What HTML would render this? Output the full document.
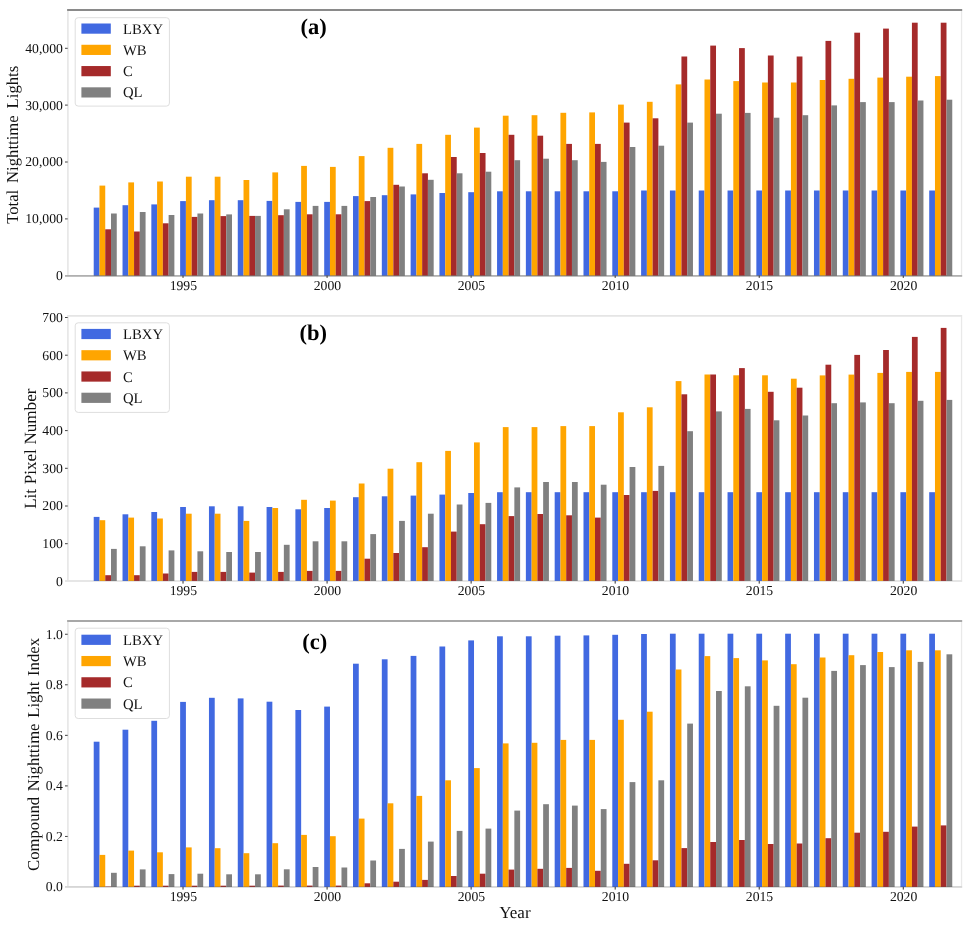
<!DOCTYPE html>
<html lang="en"><head><meta charset="utf-8"><title>Nighttime light indices 1992-2021</title>
<style>
html,body{margin:0;padding:0;background:#fff;}
body{width:972px;height:928px;overflow:hidden;}
svg{display:block;}
text{font-family:"Liberation Serif", "DejaVu Serif", serif;fill:#111;text-rendering:geometricPrecision;}
.tk{font-size:13.7px;}
.lg{font-size:14.7px;}
.lb{font-size:16.7px;}
.tt{font-size:22.5px;font-weight:bold;fill:#000;}
</style></head><body>
<svg width="972" height="928" viewBox="0 0 972 928">
<rect x="0" y="0" width="972" height="928" fill="#ffffff"/>
<g id="panel-a">
<g fill="#4169e1" shape-rendering="auto">
<rect x="93.72" y="207.60" width="5.76" height="68.00"/>
<rect x="122.53" y="205.20" width="5.76" height="70.40"/>
<rect x="151.34" y="204.40" width="5.76" height="71.20"/>
<rect x="180.15" y="201.10" width="5.76" height="74.50"/>
<rect x="208.96" y="200.20" width="5.76" height="75.40"/>
<rect x="237.77" y="200.20" width="5.76" height="75.40"/>
<rect x="266.58" y="200.90" width="5.76" height="74.70"/>
<rect x="295.39" y="201.90" width="5.76" height="73.70"/>
<rect x="324.20" y="201.90" width="5.76" height="73.70"/>
<rect x="353.01" y="196.10" width="5.76" height="79.50"/>
<rect x="381.82" y="195.20" width="5.76" height="80.40"/>
<rect x="410.63" y="194.40" width="5.76" height="81.20"/>
<rect x="439.44" y="193.00" width="5.76" height="82.60"/>
<rect x="468.25" y="192.20" width="5.76" height="83.40"/>
<rect x="497.06" y="191.30" width="5.76" height="84.30"/>
<rect x="525.87" y="191.30" width="5.76" height="84.30"/>
<rect x="554.68" y="191.30" width="5.76" height="84.30"/>
<rect x="583.49" y="191.30" width="5.76" height="84.30"/>
<rect x="612.30" y="191.30" width="5.76" height="84.30"/>
<rect x="641.11" y="190.50" width="5.76" height="85.10"/>
<rect x="669.92" y="190.50" width="5.76" height="85.10"/>
<rect x="698.73" y="190.50" width="5.76" height="85.10"/>
<rect x="727.54" y="190.50" width="5.76" height="85.10"/>
<rect x="756.35" y="190.50" width="5.76" height="85.10"/>
<rect x="785.16" y="190.50" width="5.76" height="85.10"/>
<rect x="813.97" y="190.50" width="5.76" height="85.10"/>
<rect x="842.78" y="190.50" width="5.76" height="85.10"/>
<rect x="871.59" y="190.50" width="5.76" height="85.10"/>
<rect x="900.40" y="190.50" width="5.76" height="85.10"/>
<rect x="929.21" y="190.50" width="5.76" height="85.10"/>
</g>
<g fill="#ffa500" shape-rendering="auto">
<rect x="99.48" y="185.60" width="5.76" height="90.00"/>
<rect x="128.29" y="182.40" width="5.76" height="93.20"/>
<rect x="157.10" y="181.50" width="5.76" height="94.10"/>
<rect x="185.91" y="176.70" width="5.76" height="98.90"/>
<rect x="214.72" y="176.70" width="5.76" height="98.90"/>
<rect x="243.53" y="180.00" width="5.76" height="95.60"/>
<rect x="272.34" y="172.40" width="5.76" height="103.20"/>
<rect x="301.15" y="165.90" width="5.76" height="109.70"/>
<rect x="329.96" y="166.90" width="5.76" height="108.70"/>
<rect x="358.77" y="156.10" width="5.76" height="119.50"/>
<rect x="387.58" y="147.80" width="5.76" height="127.80"/>
<rect x="416.39" y="143.90" width="5.76" height="131.70"/>
<rect x="445.20" y="134.80" width="5.76" height="140.80"/>
<rect x="474.01" y="127.60" width="5.76" height="148.00"/>
<rect x="502.82" y="115.70" width="5.76" height="159.90"/>
<rect x="531.63" y="115.20" width="5.76" height="160.40"/>
<rect x="560.44" y="112.80" width="5.76" height="162.80"/>
<rect x="589.25" y="112.40" width="5.76" height="163.20"/>
<rect x="618.06" y="104.60" width="5.76" height="171.00"/>
<rect x="646.87" y="101.80" width="5.76" height="173.80"/>
<rect x="675.68" y="84.40" width="5.76" height="191.20"/>
<rect x="704.49" y="79.50" width="5.76" height="196.10"/>
<rect x="733.30" y="81.10" width="5.76" height="194.50"/>
<rect x="762.11" y="82.50" width="5.76" height="193.10"/>
<rect x="790.92" y="82.50" width="5.76" height="193.10"/>
<rect x="819.73" y="80.00" width="5.76" height="195.60"/>
<rect x="848.54" y="78.80" width="5.76" height="196.80"/>
<rect x="877.35" y="77.60" width="5.76" height="198.00"/>
<rect x="906.16" y="76.70" width="5.76" height="198.90"/>
<rect x="934.97" y="76.10" width="5.76" height="199.50"/>
</g>
<g fill="#a52a2a" shape-rendering="auto">
<rect x="105.24" y="229.30" width="5.76" height="46.30"/>
<rect x="134.05" y="231.50" width="5.76" height="44.10"/>
<rect x="162.86" y="223.30" width="5.76" height="52.30"/>
<rect x="191.67" y="216.90" width="5.76" height="58.70"/>
<rect x="220.48" y="216.10" width="5.76" height="59.50"/>
<rect x="249.29" y="215.90" width="5.76" height="59.70"/>
<rect x="278.10" y="215.20" width="5.76" height="60.40"/>
<rect x="306.91" y="214.30" width="5.76" height="61.30"/>
<rect x="335.72" y="214.30" width="5.76" height="61.30"/>
<rect x="364.53" y="201.10" width="5.76" height="74.50"/>
<rect x="393.34" y="184.80" width="5.76" height="90.80"/>
<rect x="422.15" y="173.30" width="5.76" height="102.30"/>
<rect x="450.96" y="157.00" width="5.76" height="118.60"/>
<rect x="479.77" y="153.00" width="5.76" height="122.60"/>
<rect x="508.58" y="134.80" width="5.76" height="140.80"/>
<rect x="537.39" y="135.70" width="5.76" height="139.90"/>
<rect x="566.20" y="143.90" width="5.76" height="131.70"/>
<rect x="595.01" y="143.90" width="5.76" height="131.70"/>
<rect x="623.82" y="122.60" width="5.76" height="153.00"/>
<rect x="652.63" y="118.30" width="5.76" height="157.30"/>
<rect x="681.44" y="56.50" width="5.76" height="219.10"/>
<rect x="710.25" y="45.60" width="5.76" height="230.00"/>
<rect x="739.06" y="48.10" width="5.76" height="227.50"/>
<rect x="767.87" y="55.50" width="5.76" height="220.10"/>
<rect x="796.68" y="56.50" width="5.76" height="219.10"/>
<rect x="825.49" y="40.90" width="5.76" height="234.70"/>
<rect x="854.30" y="32.70" width="5.76" height="242.90"/>
<rect x="883.11" y="28.60" width="5.76" height="247.00"/>
<rect x="911.92" y="22.70" width="5.76" height="252.90"/>
<rect x="940.73" y="22.70" width="5.76" height="252.90"/>
</g>
<g fill="#808080" shape-rendering="auto">
<rect x="111.00" y="213.50" width="5.76" height="62.10"/>
<rect x="139.81" y="212.00" width="5.76" height="63.60"/>
<rect x="168.62" y="215.00" width="5.76" height="60.60"/>
<rect x="197.43" y="213.50" width="5.76" height="62.10"/>
<rect x="226.24" y="214.40" width="5.76" height="61.20"/>
<rect x="255.05" y="215.90" width="5.76" height="59.70"/>
<rect x="283.86" y="209.30" width="5.76" height="66.30"/>
<rect x="312.68" y="205.90" width="5.76" height="69.70"/>
<rect x="341.48" y="205.90" width="5.76" height="69.70"/>
<rect x="370.30" y="197.00" width="5.76" height="78.60"/>
<rect x="399.10" y="186.50" width="5.76" height="89.10"/>
<rect x="427.92" y="179.80" width="5.76" height="95.80"/>
<rect x="456.72" y="173.30" width="5.76" height="102.30"/>
<rect x="485.54" y="171.70" width="5.76" height="103.90"/>
<rect x="514.35" y="160.20" width="5.76" height="115.40"/>
<rect x="543.15" y="158.70" width="5.76" height="116.90"/>
<rect x="571.96" y="160.20" width="5.76" height="115.40"/>
<rect x="600.78" y="161.90" width="5.76" height="113.70"/>
<rect x="629.59" y="147.00" width="5.76" height="128.60"/>
<rect x="658.39" y="145.70" width="5.76" height="129.90"/>
<rect x="687.20" y="122.60" width="5.76" height="153.00"/>
<rect x="716.02" y="113.70" width="5.76" height="161.90"/>
<rect x="744.83" y="112.90" width="5.76" height="162.70"/>
<rect x="773.63" y="117.70" width="5.76" height="157.90"/>
<rect x="802.44" y="115.20" width="5.76" height="160.40"/>
<rect x="831.26" y="105.40" width="5.76" height="170.20"/>
<rect x="860.07" y="102.10" width="5.76" height="173.50"/>
<rect x="888.88" y="102.10" width="5.76" height="173.50"/>
<rect x="917.68" y="100.50" width="5.76" height="175.10"/>
<rect x="946.50" y="99.70" width="5.76" height="175.90"/>
</g>
<rect x="67.1" y="11.00" width="1.6" height="264.00" fill="#000" fill-opacity="0.10"/>
<rect x="960.9" y="11.00" width="1.3" height="264.00" fill="#000" fill-opacity="0.085"/>
<rect x="67.1" y="9.00" width="895.1" height="2.00" fill="#000" fill-opacity="0.46"/>
<rect x="65.0" y="275.00" width="897.2" height="1.80" fill="#000" fill-opacity="0.31"/>
<text class="tk" x="62.9" y="280.20" text-anchor="end">0</text>
<line x1="65.00" y1="218.90" x2="67.70" y2="218.90" stroke="#444" stroke-width="1"/>
<text class="tk" x="62.9" y="223.30" text-anchor="end">10,000</text>
<line x1="65.00" y1="162.00" x2="67.70" y2="162.00" stroke="#444" stroke-width="1"/>
<text class="tk" x="62.9" y="166.40" text-anchor="end">20,000</text>
<line x1="65.00" y1="105.10" x2="67.70" y2="105.10" stroke="#444" stroke-width="1"/>
<text class="tk" x="62.9" y="109.50" text-anchor="end">30,000</text>
<line x1="65.00" y1="48.30" x2="67.70" y2="48.30" stroke="#444" stroke-width="1"/>
<text class="tk" x="62.9" y="52.70" text-anchor="end">40,000</text>
<line x1="183.03" y1="275.60" x2="183.03" y2="277.90" stroke="#333" stroke-width="1"/>
<text class="tk" x="183.33" y="290.00" text-anchor="middle">1995</text>
<line x1="327.08" y1="275.60" x2="327.08" y2="277.90" stroke="#333" stroke-width="1"/>
<text class="tk" x="327.38" y="290.00" text-anchor="middle">2000</text>
<line x1="471.13" y1="275.60" x2="471.13" y2="277.90" stroke="#333" stroke-width="1"/>
<text class="tk" x="471.43" y="290.00" text-anchor="middle">2005</text>
<line x1="615.18" y1="275.60" x2="615.18" y2="277.90" stroke="#333" stroke-width="1"/>
<text class="tk" x="615.48" y="290.00" text-anchor="middle">2010</text>
<line x1="759.23" y1="275.60" x2="759.23" y2="277.90" stroke="#333" stroke-width="1"/>
<text class="tk" x="759.53" y="290.00" text-anchor="middle">2015</text>
<line x1="903.28" y1="275.60" x2="903.28" y2="277.90" stroke="#333" stroke-width="1"/>
<text class="tk" x="903.58" y="290.00" text-anchor="middle">2020</text>
<text class="lb" transform="translate(18.10,144.80) rotate(-90)" text-anchor="middle" word-spacing="2.7" style="font-size:16.7px">Total Nighttime Lights</text>
<text class="tt" x="313.60" y="34.45" text-anchor="middle">(a)</text>
<rect x="75.2" y="17.70" width="94.2" height="88.40" rx="3" ry="3" fill="#ffffff" fill-opacity="0.8" stroke="#dedede" stroke-width="1"/>
<rect x="81.4" y="23.50" width="29.4" height="10.2" fill="#4169e1"/>
<text class="lg" x="123" y="33.65">LBXY</text>
<rect x="81.4" y="44.77" width="29.4" height="10.2" fill="#ffa500"/>
<text class="lg" x="123" y="54.92">WB</text>
<rect x="81.4" y="66.04" width="29.4" height="10.2" fill="#a52a2a"/>
<text class="lg" x="123" y="76.19">C</text>
<rect x="81.4" y="87.31" width="29.4" height="10.2" fill="#808080"/>
<text class="lg" x="123" y="97.46">QL</text>
</g>
<g id="panel-b">
<g fill="#4169e1" shape-rendering="auto">
<rect x="93.72" y="516.90" width="5.76" height="64.00"/>
<rect x="122.53" y="514.30" width="5.76" height="66.60"/>
<rect x="151.34" y="512.00" width="5.76" height="68.90"/>
<rect x="180.15" y="507.00" width="5.76" height="73.90"/>
<rect x="208.96" y="506.30" width="5.76" height="74.60"/>
<rect x="237.77" y="506.30" width="5.76" height="74.60"/>
<rect x="266.58" y="507.00" width="5.76" height="73.90"/>
<rect x="295.39" y="509.30" width="5.76" height="71.60"/>
<rect x="324.20" y="508.00" width="5.76" height="72.90"/>
<rect x="353.01" y="497.20" width="5.76" height="83.70"/>
<rect x="381.82" y="496.30" width="5.76" height="84.60"/>
<rect x="410.63" y="495.60" width="5.76" height="85.30"/>
<rect x="439.44" y="494.60" width="5.76" height="86.30"/>
<rect x="468.25" y="493.00" width="5.76" height="87.90"/>
<rect x="497.06" y="492.20" width="5.76" height="88.70"/>
<rect x="525.87" y="492.20" width="5.76" height="88.70"/>
<rect x="554.68" y="492.20" width="5.76" height="88.70"/>
<rect x="583.49" y="492.20" width="5.76" height="88.70"/>
<rect x="612.30" y="492.20" width="5.76" height="88.70"/>
<rect x="641.11" y="492.20" width="5.76" height="88.70"/>
<rect x="669.92" y="492.20" width="5.76" height="88.70"/>
<rect x="698.73" y="492.20" width="5.76" height="88.70"/>
<rect x="727.54" y="492.20" width="5.76" height="88.70"/>
<rect x="756.35" y="492.20" width="5.76" height="88.70"/>
<rect x="785.16" y="492.20" width="5.76" height="88.70"/>
<rect x="813.97" y="492.20" width="5.76" height="88.70"/>
<rect x="842.78" y="492.20" width="5.76" height="88.70"/>
<rect x="871.59" y="492.20" width="5.76" height="88.70"/>
<rect x="900.40" y="492.20" width="5.76" height="88.70"/>
<rect x="929.21" y="492.20" width="5.76" height="88.70"/>
</g>
<g fill="#ffa500" shape-rendering="auto">
<rect x="99.48" y="520.20" width="5.76" height="60.70"/>
<rect x="128.29" y="517.60" width="5.76" height="63.30"/>
<rect x="157.10" y="518.50" width="5.76" height="62.40"/>
<rect x="185.91" y="513.70" width="5.76" height="67.20"/>
<rect x="214.72" y="513.70" width="5.76" height="67.20"/>
<rect x="243.53" y="520.90" width="5.76" height="60.00"/>
<rect x="272.34" y="508.00" width="5.76" height="72.90"/>
<rect x="301.15" y="499.80" width="5.76" height="81.10"/>
<rect x="329.96" y="500.60" width="5.76" height="80.30"/>
<rect x="358.77" y="483.50" width="5.76" height="97.40"/>
<rect x="387.58" y="468.70" width="5.76" height="112.20"/>
<rect x="416.39" y="462.20" width="5.76" height="118.70"/>
<rect x="445.20" y="450.90" width="5.76" height="130.00"/>
<rect x="474.01" y="442.40" width="5.76" height="138.50"/>
<rect x="502.82" y="427.10" width="5.76" height="153.80"/>
<rect x="531.63" y="427.10" width="5.76" height="153.80"/>
<rect x="560.44" y="426.10" width="5.76" height="154.80"/>
<rect x="589.25" y="426.10" width="5.76" height="154.80"/>
<rect x="618.06" y="412.30" width="5.76" height="168.60"/>
<rect x="646.87" y="407.30" width="5.76" height="173.60"/>
<rect x="675.68" y="381.10" width="5.76" height="199.80"/>
<rect x="704.49" y="374.50" width="5.76" height="206.40"/>
<rect x="733.30" y="375.30" width="5.76" height="205.60"/>
<rect x="762.11" y="375.30" width="5.76" height="205.60"/>
<rect x="790.92" y="378.70" width="5.76" height="202.20"/>
<rect x="819.73" y="375.40" width="5.76" height="205.50"/>
<rect x="848.54" y="374.60" width="5.76" height="206.30"/>
<rect x="877.35" y="372.90" width="5.76" height="208.00"/>
<rect x="906.16" y="371.90" width="5.76" height="209.00"/>
<rect x="934.97" y="371.90" width="5.76" height="209.00"/>
</g>
<g fill="#a52a2a" shape-rendering="auto">
<rect x="105.24" y="575.20" width="5.76" height="5.70"/>
<rect x="134.05" y="575.20" width="5.76" height="5.70"/>
<rect x="162.86" y="573.50" width="5.76" height="7.40"/>
<rect x="191.67" y="571.90" width="5.76" height="9.00"/>
<rect x="220.48" y="571.90" width="5.76" height="9.00"/>
<rect x="249.29" y="572.60" width="5.76" height="8.30"/>
<rect x="278.10" y="571.90" width="5.76" height="9.00"/>
<rect x="306.91" y="570.90" width="5.76" height="10.00"/>
<rect x="335.72" y="570.90" width="5.76" height="10.00"/>
<rect x="364.53" y="558.70" width="5.76" height="22.20"/>
<rect x="393.34" y="553.00" width="5.76" height="27.90"/>
<rect x="422.15" y="547.20" width="5.76" height="33.70"/>
<rect x="450.96" y="531.60" width="5.76" height="49.30"/>
<rect x="479.77" y="524.20" width="5.76" height="56.70"/>
<rect x="508.58" y="516.10" width="5.76" height="64.80"/>
<rect x="537.39" y="514.00" width="5.76" height="66.90"/>
<rect x="566.20" y="515.30" width="5.76" height="65.60"/>
<rect x="595.01" y="517.60" width="5.76" height="63.30"/>
<rect x="623.82" y="495.00" width="5.76" height="85.90"/>
<rect x="652.63" y="490.90" width="5.76" height="90.00"/>
<rect x="681.44" y="394.30" width="5.76" height="186.60"/>
<rect x="710.25" y="374.50" width="5.76" height="206.40"/>
<rect x="739.06" y="368.10" width="5.76" height="212.80"/>
<rect x="767.87" y="391.80" width="5.76" height="189.10"/>
<rect x="796.68" y="387.70" width="5.76" height="193.20"/>
<rect x="825.49" y="364.70" width="5.76" height="216.20"/>
<rect x="854.30" y="354.90" width="5.76" height="226.00"/>
<rect x="883.11" y="350.00" width="5.76" height="230.90"/>
<rect x="911.92" y="336.90" width="5.76" height="244.00"/>
<rect x="940.73" y="327.90" width="5.76" height="253.00"/>
</g>
<g fill="#808080" shape-rendering="auto">
<rect x="111.00" y="548.90" width="5.76" height="32.00"/>
<rect x="139.81" y="546.30" width="5.76" height="34.60"/>
<rect x="168.62" y="550.40" width="5.76" height="30.50"/>
<rect x="197.43" y="551.30" width="5.76" height="29.60"/>
<rect x="226.24" y="552.00" width="5.76" height="28.90"/>
<rect x="255.05" y="552.00" width="5.76" height="28.90"/>
<rect x="283.86" y="544.80" width="5.76" height="36.10"/>
<rect x="312.68" y="541.30" width="5.76" height="39.60"/>
<rect x="341.48" y="541.30" width="5.76" height="39.60"/>
<rect x="370.30" y="534.10" width="5.76" height="46.80"/>
<rect x="399.10" y="520.90" width="5.76" height="60.00"/>
<rect x="427.92" y="513.70" width="5.76" height="67.20"/>
<rect x="456.72" y="504.50" width="5.76" height="76.40"/>
<rect x="485.54" y="502.90" width="5.76" height="78.00"/>
<rect x="514.35" y="487.40" width="5.76" height="93.50"/>
<rect x="543.15" y="482.00" width="5.76" height="98.90"/>
<rect x="571.96" y="482.00" width="5.76" height="98.90"/>
<rect x="600.78" y="484.70" width="5.76" height="96.20"/>
<rect x="629.59" y="467.00" width="5.76" height="113.90"/>
<rect x="658.39" y="465.90" width="5.76" height="115.00"/>
<rect x="687.20" y="431.20" width="5.76" height="149.70"/>
<rect x="716.02" y="411.40" width="5.76" height="169.50"/>
<rect x="744.83" y="408.90" width="5.76" height="172.00"/>
<rect x="773.63" y="420.30" width="5.76" height="160.60"/>
<rect x="802.44" y="415.50" width="5.76" height="165.40"/>
<rect x="831.26" y="403.20" width="5.76" height="177.70"/>
<rect x="860.07" y="402.40" width="5.76" height="178.50"/>
<rect x="888.88" y="403.20" width="5.76" height="177.70"/>
<rect x="917.68" y="400.80" width="5.76" height="180.10"/>
<rect x="946.50" y="399.90" width="5.76" height="181.00"/>
</g>
<rect x="67.1" y="316.80" width="1.6" height="263.30" fill="#000" fill-opacity="0.10"/>
<rect x="960.9" y="316.80" width="1.3" height="263.30" fill="#000" fill-opacity="0.085"/>
<rect x="67.1" y="315.00" width="895.1" height="1.80" fill="#000" fill-opacity="0.10"/>
<rect x="65.0" y="580.10" width="897.2" height="1.80" fill="#000" fill-opacity="0.11"/>
<text class="tk" x="62.9" y="585.80" text-anchor="end">0</text>
<line x1="65.00" y1="543.70" x2="67.70" y2="543.70" stroke="#444" stroke-width="1"/>
<text class="tk" x="62.9" y="548.10" text-anchor="end">100</text>
<line x1="65.00" y1="506.00" x2="67.70" y2="506.00" stroke="#444" stroke-width="1"/>
<text class="tk" x="62.9" y="510.40" text-anchor="end">200</text>
<line x1="65.00" y1="468.30" x2="67.70" y2="468.30" stroke="#444" stroke-width="1"/>
<text class="tk" x="62.9" y="472.70" text-anchor="end">300</text>
<line x1="65.00" y1="430.60" x2="67.70" y2="430.60" stroke="#444" stroke-width="1"/>
<text class="tk" x="62.9" y="435.00" text-anchor="end">400</text>
<line x1="65.00" y1="392.90" x2="67.70" y2="392.90" stroke="#444" stroke-width="1"/>
<text class="tk" x="62.9" y="397.30" text-anchor="end">500</text>
<line x1="65.00" y1="355.20" x2="67.70" y2="355.20" stroke="#444" stroke-width="1"/>
<text class="tk" x="62.9" y="359.60" text-anchor="end">600</text>
<line x1="65.00" y1="317.50" x2="67.70" y2="317.50" stroke="#444" stroke-width="1"/>
<text class="tk" x="62.9" y="321.90" text-anchor="end">700</text>
<line x1="183.03" y1="580.90" x2="183.03" y2="583.60" stroke="#333" stroke-width="1"/>
<text class="tk" x="183.33" y="595.30" text-anchor="middle">1995</text>
<line x1="327.08" y1="580.90" x2="327.08" y2="583.60" stroke="#333" stroke-width="1"/>
<text class="tk" x="327.38" y="595.30" text-anchor="middle">2000</text>
<line x1="471.13" y1="580.90" x2="471.13" y2="583.60" stroke="#333" stroke-width="1"/>
<text class="tk" x="471.43" y="595.30" text-anchor="middle">2005</text>
<line x1="615.18" y1="580.90" x2="615.18" y2="583.60" stroke="#333" stroke-width="1"/>
<text class="tk" x="615.48" y="595.30" text-anchor="middle">2010</text>
<line x1="759.23" y1="580.90" x2="759.23" y2="583.60" stroke="#333" stroke-width="1"/>
<text class="tk" x="759.53" y="595.30" text-anchor="middle">2015</text>
<line x1="903.28" y1="580.90" x2="903.28" y2="583.60" stroke="#333" stroke-width="1"/>
<text class="tk" x="903.58" y="595.30" text-anchor="middle">2020</text>
<text class="lb" transform="translate(35.90,448.70) rotate(-90)" text-anchor="middle" word-spacing="0.3" style="font-size:17.1px">Lit Pixel Number</text>
<text class="tt" x="313.20" y="339.80" text-anchor="middle">(b)</text>
<rect x="75.2" y="322.80" width="94.2" height="89.60" rx="3" ry="3" fill="#ffffff" fill-opacity="0.8" stroke="#dedede" stroke-width="1"/>
<rect x="81.4" y="328.90" width="29.4" height="10.2" fill="#4169e1"/>
<text class="lg" x="123" y="339.05">LBXY</text>
<rect x="81.4" y="350.17" width="29.4" height="10.2" fill="#ffa500"/>
<text class="lg" x="123" y="360.32">WB</text>
<rect x="81.4" y="371.44" width="29.4" height="10.2" fill="#a52a2a"/>
<text class="lg" x="123" y="381.59">C</text>
<rect x="81.4" y="392.71" width="29.4" height="10.2" fill="#808080"/>
<text class="lg" x="123" y="402.86">QL</text>
</g>
<g id="panel-c">
<g fill="#4169e1" shape-rendering="auto">
<rect x="93.72" y="741.70" width="5.76" height="145.20"/>
<rect x="122.53" y="729.70" width="5.76" height="157.20"/>
<rect x="151.34" y="720.80" width="5.76" height="166.10"/>
<rect x="180.15" y="701.90" width="5.76" height="185.00"/>
<rect x="208.96" y="697.80" width="5.76" height="189.10"/>
<rect x="237.77" y="698.40" width="5.76" height="188.50"/>
<rect x="266.58" y="701.70" width="5.76" height="185.20"/>
<rect x="295.39" y="710.00" width="5.76" height="176.90"/>
<rect x="324.20" y="706.60" width="5.76" height="180.30"/>
<rect x="353.01" y="663.70" width="5.76" height="223.20"/>
<rect x="381.82" y="659.30" width="5.76" height="227.60"/>
<rect x="410.63" y="655.90" width="5.76" height="231.00"/>
<rect x="439.44" y="646.50" width="5.76" height="240.40"/>
<rect x="468.25" y="640.40" width="5.76" height="246.50"/>
<rect x="497.06" y="636.30" width="5.76" height="250.60"/>
<rect x="525.87" y="636.30" width="5.76" height="250.60"/>
<rect x="554.68" y="635.70" width="5.76" height="251.20"/>
<rect x="583.49" y="635.40" width="5.76" height="251.50"/>
<rect x="612.30" y="634.80" width="5.76" height="252.10"/>
<rect x="641.11" y="634.00" width="5.76" height="252.90"/>
<rect x="669.92" y="633.70" width="5.76" height="253.20"/>
<rect x="698.73" y="633.70" width="5.76" height="253.20"/>
<rect x="727.54" y="633.70" width="5.76" height="253.20"/>
<rect x="756.35" y="633.70" width="5.76" height="253.20"/>
<rect x="785.16" y="633.70" width="5.76" height="253.20"/>
<rect x="813.97" y="633.70" width="5.76" height="253.20"/>
<rect x="842.78" y="633.70" width="5.76" height="253.20"/>
<rect x="871.59" y="633.70" width="5.76" height="253.20"/>
<rect x="900.40" y="633.70" width="5.76" height="253.20"/>
<rect x="929.21" y="633.70" width="5.76" height="253.20"/>
</g>
<g fill="#ffa500" shape-rendering="auto">
<rect x="99.48" y="854.90" width="5.76" height="32.00"/>
<rect x="128.29" y="850.60" width="5.76" height="36.30"/>
<rect x="157.10" y="852.30" width="5.76" height="34.60"/>
<rect x="185.91" y="847.40" width="5.76" height="39.50"/>
<rect x="214.72" y="848.20" width="5.76" height="38.70"/>
<rect x="243.53" y="853.20" width="5.76" height="33.70"/>
<rect x="272.34" y="843.20" width="5.76" height="43.70"/>
<rect x="301.15" y="834.90" width="5.76" height="52.00"/>
<rect x="329.96" y="836.20" width="5.76" height="50.70"/>
<rect x="358.77" y="818.60" width="5.76" height="68.30"/>
<rect x="387.58" y="803.30" width="5.76" height="83.60"/>
<rect x="416.39" y="795.90" width="5.76" height="91.00"/>
<rect x="445.20" y="780.30" width="5.76" height="106.60"/>
<rect x="474.01" y="768.10" width="5.76" height="118.80"/>
<rect x="502.82" y="743.40" width="5.76" height="143.50"/>
<rect x="531.63" y="742.80" width="5.76" height="144.10"/>
<rect x="560.44" y="739.90" width="5.76" height="147.00"/>
<rect x="589.25" y="739.90" width="5.76" height="147.00"/>
<rect x="618.06" y="719.80" width="5.76" height="167.10"/>
<rect x="646.87" y="711.70" width="5.76" height="175.20"/>
<rect x="675.68" y="669.50" width="5.76" height="217.40"/>
<rect x="704.49" y="656.10" width="5.76" height="230.80"/>
<rect x="733.30" y="658.10" width="5.76" height="228.80"/>
<rect x="762.11" y="660.40" width="5.76" height="226.50"/>
<rect x="790.92" y="664.20" width="5.76" height="222.70"/>
<rect x="819.73" y="657.50" width="5.76" height="229.40"/>
<rect x="848.54" y="655.20" width="5.76" height="231.70"/>
<rect x="877.35" y="652.00" width="5.76" height="234.90"/>
<rect x="906.16" y="650.30" width="5.76" height="236.60"/>
<rect x="934.97" y="650.30" width="5.76" height="236.60"/>
</g>
<g fill="#a52a2a" shape-rendering="auto">
<rect x="105.24" y="886.50" width="5.76" height="0.40"/>
<rect x="134.05" y="885.70" width="5.76" height="1.20"/>
<rect x="162.86" y="885.70" width="5.76" height="1.20"/>
<rect x="191.67" y="885.70" width="5.76" height="1.20"/>
<rect x="220.48" y="885.70" width="5.76" height="1.20"/>
<rect x="249.29" y="885.70" width="5.76" height="1.20"/>
<rect x="278.10" y="885.60" width="5.76" height="1.30"/>
<rect x="306.91" y="885.60" width="5.76" height="1.30"/>
<rect x="335.72" y="885.60" width="5.76" height="1.30"/>
<rect x="364.53" y="883.30" width="5.76" height="3.60"/>
<rect x="393.34" y="881.70" width="5.76" height="5.20"/>
<rect x="422.15" y="879.90" width="5.76" height="7.00"/>
<rect x="450.96" y="876.00" width="5.76" height="10.90"/>
<rect x="479.77" y="873.70" width="5.76" height="13.20"/>
<rect x="508.58" y="869.60" width="5.76" height="17.30"/>
<rect x="537.39" y="868.80" width="5.76" height="18.10"/>
<rect x="566.20" y="867.90" width="5.76" height="19.00"/>
<rect x="595.01" y="870.80" width="5.76" height="16.10"/>
<rect x="623.82" y="863.80" width="5.76" height="23.10"/>
<rect x="652.63" y="860.30" width="5.76" height="26.60"/>
<rect x="681.44" y="848.10" width="5.76" height="38.80"/>
<rect x="710.25" y="842.00" width="5.76" height="44.90"/>
<rect x="739.06" y="840.00" width="5.76" height="46.90"/>
<rect x="767.87" y="844.00" width="5.76" height="42.90"/>
<rect x="796.68" y="843.50" width="5.76" height="43.40"/>
<rect x="825.49" y="838.20" width="5.76" height="48.70"/>
<rect x="854.30" y="832.70" width="5.76" height="54.20"/>
<rect x="883.11" y="831.80" width="5.76" height="55.10"/>
<rect x="911.92" y="826.60" width="5.76" height="60.30"/>
<rect x="940.73" y="825.40" width="5.76" height="61.50"/>
</g>
<g fill="#808080" shape-rendering="auto">
<rect x="111.00" y="872.80" width="5.76" height="14.10"/>
<rect x="139.81" y="869.40" width="5.76" height="17.50"/>
<rect x="168.62" y="874.10" width="5.76" height="12.80"/>
<rect x="197.43" y="873.70" width="5.76" height="13.20"/>
<rect x="226.24" y="874.30" width="5.76" height="12.60"/>
<rect x="255.05" y="874.30" width="5.76" height="12.60"/>
<rect x="283.86" y="869.30" width="5.76" height="17.60"/>
<rect x="312.68" y="867.00" width="5.76" height="19.90"/>
<rect x="341.48" y="867.50" width="5.76" height="19.40"/>
<rect x="370.30" y="860.50" width="5.76" height="26.40"/>
<rect x="399.10" y="848.90" width="5.76" height="38.00"/>
<rect x="427.92" y="841.60" width="5.76" height="45.30"/>
<rect x="456.72" y="830.90" width="5.76" height="56.00"/>
<rect x="485.54" y="828.60" width="5.76" height="58.30"/>
<rect x="514.35" y="810.60" width="5.76" height="76.30"/>
<rect x="543.15" y="804.20" width="5.76" height="82.70"/>
<rect x="571.96" y="805.60" width="5.76" height="81.30"/>
<rect x="600.78" y="809.10" width="5.76" height="77.80"/>
<rect x="629.59" y="782.10" width="5.76" height="104.80"/>
<rect x="658.39" y="780.30" width="5.76" height="106.60"/>
<rect x="687.20" y="723.60" width="5.76" height="163.30"/>
<rect x="716.02" y="691.00" width="5.76" height="195.90"/>
<rect x="744.83" y="686.30" width="5.76" height="200.60"/>
<rect x="773.63" y="705.80" width="5.76" height="181.10"/>
<rect x="802.44" y="697.70" width="5.76" height="189.20"/>
<rect x="831.26" y="670.90" width="5.76" height="216.00"/>
<rect x="860.07" y="665.10" width="5.76" height="221.80"/>
<rect x="888.88" y="667.10" width="5.76" height="219.80"/>
<rect x="917.68" y="661.90" width="5.76" height="225.00"/>
<rect x="946.50" y="654.30" width="5.76" height="232.60"/>
</g>
<rect x="67.1" y="622.00" width="1.6" height="264.00" fill="#000" fill-opacity="0.10"/>
<rect x="960.9" y="622.00" width="1.3" height="264.00" fill="#000" fill-opacity="0.085"/>
<rect x="67.1" y="620.00" width="895.1" height="2.00" fill="#000" fill-opacity="0.34"/>
<rect x="65.0" y="886.00" width="897.2" height="1.85" fill="#000" fill-opacity="0.16"/>
<text class="tk" x="62.9" y="891.40" text-anchor="end">0.0</text>
<line x1="65.00" y1="836.45" x2="67.70" y2="836.45" stroke="#444" stroke-width="1"/>
<text class="tk" x="62.9" y="840.85" text-anchor="end">0.2</text>
<line x1="65.00" y1="785.90" x2="67.70" y2="785.90" stroke="#444" stroke-width="1"/>
<text class="tk" x="62.9" y="790.30" text-anchor="end">0.4</text>
<line x1="65.00" y1="735.35" x2="67.70" y2="735.35" stroke="#444" stroke-width="1"/>
<text class="tk" x="62.9" y="739.75" text-anchor="end">0.6</text>
<line x1="65.00" y1="684.80" x2="67.70" y2="684.80" stroke="#444" stroke-width="1"/>
<text class="tk" x="62.9" y="689.20" text-anchor="end">0.8</text>
<line x1="65.00" y1="634.25" x2="67.70" y2="634.25" stroke="#444" stroke-width="1"/>
<text class="tk" x="62.9" y="638.65" text-anchor="end">1.0</text>
<line x1="183.03" y1="886.90" x2="183.03" y2="889.60" stroke="#333" stroke-width="1"/>
<text class="tk" x="183.33" y="901.30" text-anchor="middle">1995</text>
<line x1="327.08" y1="886.90" x2="327.08" y2="889.60" stroke="#333" stroke-width="1"/>
<text class="tk" x="327.38" y="901.30" text-anchor="middle">2000</text>
<line x1="471.13" y1="886.90" x2="471.13" y2="889.60" stroke="#333" stroke-width="1"/>
<text class="tk" x="471.43" y="901.30" text-anchor="middle">2005</text>
<line x1="615.18" y1="886.90" x2="615.18" y2="889.60" stroke="#333" stroke-width="1"/>
<text class="tk" x="615.48" y="901.30" text-anchor="middle">2010</text>
<line x1="759.23" y1="886.90" x2="759.23" y2="889.60" stroke="#333" stroke-width="1"/>
<text class="tk" x="759.53" y="901.30" text-anchor="middle">2015</text>
<line x1="903.28" y1="886.90" x2="903.28" y2="889.60" stroke="#333" stroke-width="1"/>
<text class="tk" x="903.58" y="901.30" text-anchor="middle">2020</text>
<text class="lb" transform="translate(39.20,754.50) rotate(-90)" text-anchor="middle" word-spacing="1.5" style="font-size:16.7px">Compound Nighttime Light Index</text>
<text class="tt" x="314.75" y="648.50" text-anchor="middle">(c)</text>
<rect x="75.2" y="628.20" width="94.2" height="90.30" rx="3" ry="3" fill="#ffffff" fill-opacity="0.8" stroke="#dedede" stroke-width="1"/>
<rect x="81.4" y="634.70" width="29.4" height="10.2" fill="#4169e1"/>
<text class="lg" x="123" y="644.85">LBXY</text>
<rect x="81.4" y="655.97" width="29.4" height="10.2" fill="#ffa500"/>
<text class="lg" x="123" y="666.12">WB</text>
<rect x="81.4" y="677.24" width="29.4" height="10.2" fill="#a52a2a"/>
<text class="lg" x="123" y="687.39">C</text>
<rect x="81.4" y="698.51" width="29.4" height="10.2" fill="#808080"/>
<text class="lg" x="123" y="708.66">QL</text>
</g>
<text class="lb" x="514.9" y="917.9" text-anchor="middle" style="font-size:17px">Year</text>
</svg>
</body></html>
